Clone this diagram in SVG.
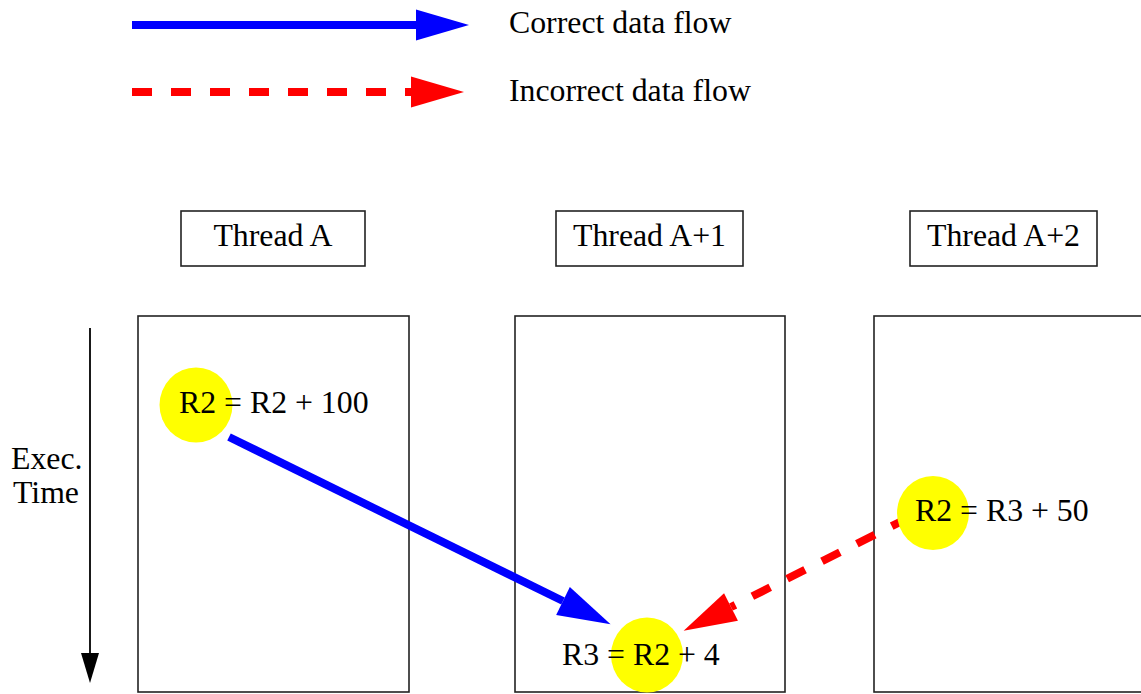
<svg xmlns="http://www.w3.org/2000/svg" width="1141" height="694" viewBox="0 0 1141 694">
  <style>
    text { font-family: "Liberation Serif", "Times New Roman", serif; font-size: 31.8px; fill: #000; }
    .box { fill: none; stroke: #222; stroke-width: 1.6; }
    .hot { fill: #ffff00; stroke: none; }
    .ok { fill: none; stroke: #0000ff; stroke-width: 8; }
    .bad { fill: none; stroke: #ff0000; stroke-width: 8; stroke-dasharray: 20 19; }
    .mid { text-anchor: middle; }
  </style>
  <defs>
    <marker id="headBlue" markerUnits="userSpaceOnUse" markerWidth="54" markerHeight="32" refX="0" refY="15.5" orient="auto" overflow="visible">
      <path d="M0,0 L53,15.5 L0,31 Z" fill="#0000ff"/>
    </marker>
    <marker id="headRed" markerUnits="userSpaceOnUse" markerWidth="54" markerHeight="32" refX="0" refY="15.5" orient="auto" overflow="visible">
      <path d="M0,0 L53,15.5 L0,31 Z" fill="#ff0000"/>
    </marker>
  </defs>

  <g id="legend">
    <line class="ok" x1="132" y1="25" x2="416" y2="25" marker-end="url(#headBlue)"/>
    <text x="509" y="33">Correct data flow</text>
    <line class="bad" x1="132" y1="92" x2="411" y2="92" marker-end="url(#headRed)"/>
    <text x="509" y="101">Incorrect data flow</text>
  </g>

  <g id="time-axis">
    <line x1="90" y1="328" x2="90" y2="654" stroke="#000" stroke-width="1.8"/>
    <polygon points="81,653 99,653 90,683" fill="#000"/>
    <text x="11" y="469">Exec.</text>
    <text x="13" y="503">Time</text>
  </g>

  <g id="thread-a-label">
    <rect class="box" x="181" y="211" width="184" height="55"/>
    <text class="mid" x="273" y="246">Thread A</text>
  </g>
  <g id="thread-a1-label">
    <rect class="box" x="556" y="211" width="187" height="55"/>
    <text class="mid" x="649.5" y="246">Thread A+1</text>
  </g>
  <g id="thread-a2-label">
    <rect class="box" x="910" y="211" width="187" height="55"/>
    <text class="mid" x="1003.5" y="246">Thread A+2</text>
  </g>

  <g id="thread-a">
    <rect class="box" x="138" y="316" width="271" height="376"/>
  </g>
  <g id="thread-a1">
    <rect class="box" x="515" y="316" width="270" height="376"/>
  </g>
  <g id="thread-a2">
    <rect class="box" x="874" y="316" width="272" height="376"/>
  </g>

  <g id="connectors">
    <line class="ok" x1="229" y1="437" x2="563" y2="601" marker-end="url(#headBlue)"/>
    <line class="bad" x1="906" y1="519" x2="731" y2="607" stroke-dashoffset="4" marker-end="url(#headRed)"/>
  </g>

  <g id="write-a">
    <ellipse class="hot" cx="196" cy="405" rx="36.5" ry="37.5"/>
    <text x="179" y="413">R2 = R2 + 100</text>
  </g>
  <g id="read-a1">
    <ellipse class="hot" cx="647" cy="655" rx="36" ry="37.5"/>
    <text x="562" y="665">R3 = R2 + 4</text>
  </g>
  <g id="write-a2">
    <ellipse class="hot" cx="933" cy="513" rx="36" ry="37"/>
    <text x="915" y="521">R2 = R3 + 50</text>
  </g>
</svg>
